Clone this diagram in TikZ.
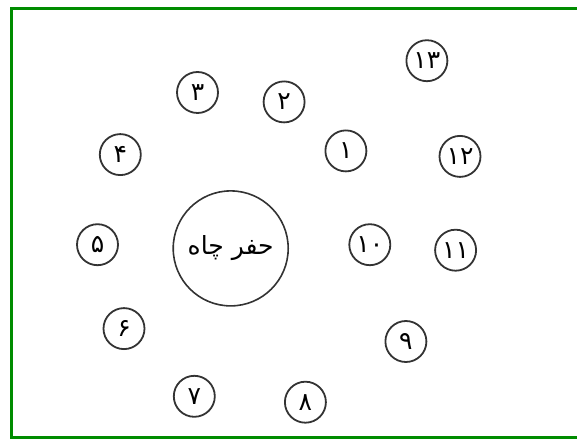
\documentclass[tikz,border=0pt]{standalone}
\usepackage{fontspec}
\usepackage{tikz}
\newfontfamily\arabicfont[Script=Arabic]{DejaVu Sans}
\TeXXeTstate=1

\begin{document}
\begin{tikzpicture}[
    x=1pt,y=1pt,
    well/.style={circle,draw=black!80,line width=1.6pt,minimum size=115pt,
      inner sep=0pt,font=\arabicfont\fontsize{25}{28}\selectfont},
    hole/.style={circle,draw=black!80,line width=1.8pt,minimum size=41pt,
      inner sep=0pt,font=\arabicfont\fontsize{25}{28}\selectfont},
    frame/.style={draw=green!55!black,line width=3pt}
  ]
    \useasboundingbox (0,0) rectangle (577,439);
    \draw[frame] (577,430) -- (11,430) -- (11,2) -- (577,2);
    \node[well] (center) at (230.7,190.6) {\beginR حفر چاه\endR};
    \node[hole] (h1) at (345.9,288.1) {۱};
    \node[hole] (h2) at (284.1,337.1) {۲};
    \node[hole] (h3) at (197.5,346.5) {۳};
    \node[hole] (h4) at (120.3,284.4) {۴};
    \node[hole] (h5) at (97.5,194.3) {۵};
    \node[hole] (h6) at (124,110.4) {۶};
    \node[hole] (h7) at (194.3,42.7) {۷};
    \node[hole] (h8) at (305.4,36.8) {۸};
    \node[hole] (h9) at (405.9,97.5) {۹};
    \node[hole] (h10) at (369.8,194.3) {۱۰};
    \node[hole] (h11) at (455.6,188.8) {۱۱};
    \node[hole] (h12) at (460,282.6) {۱۲};
    \node[hole] (h13) at (426.9,378.3) {۱۳};
  \end{tikzpicture}
\end{document}
